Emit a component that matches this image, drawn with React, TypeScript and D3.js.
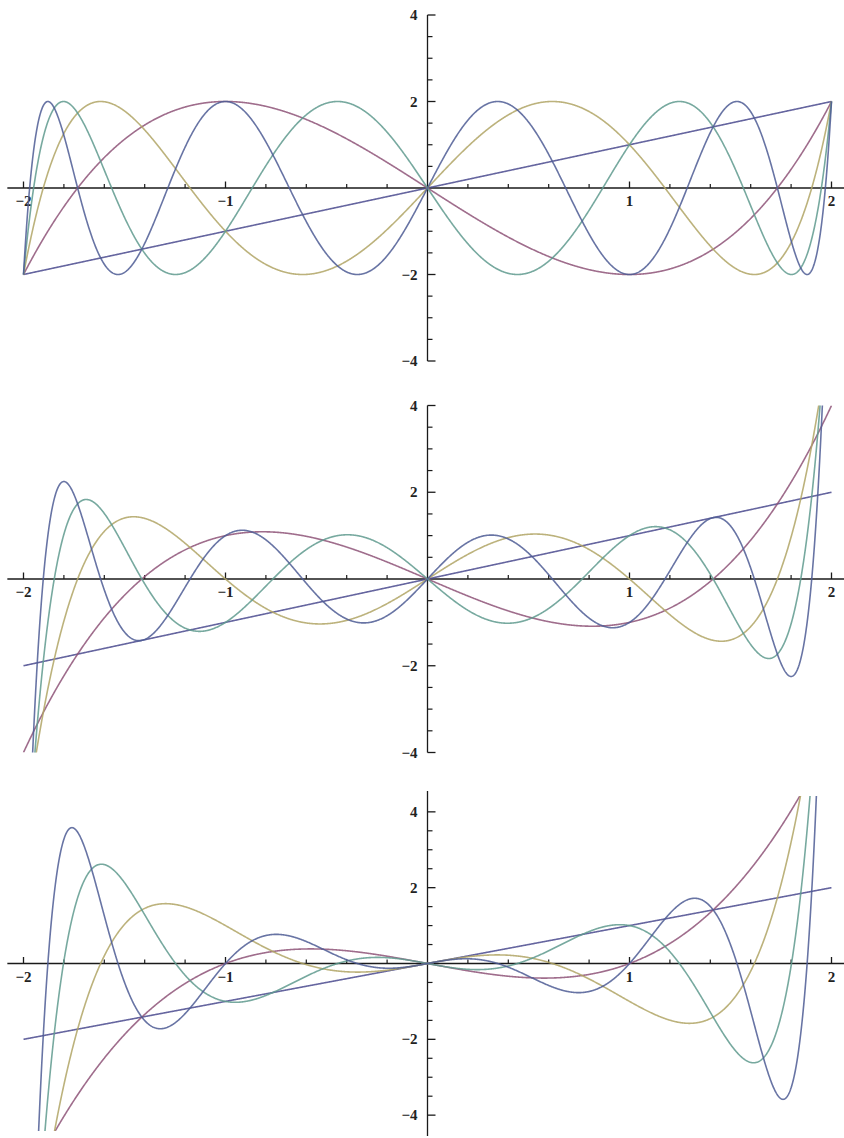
import React from "react";
import * as d3 from "d3";

// Polynomial coefficients, lowest power first, for the odd degrees 1, 3, 5, 7, 9.
const lucasCurves: number[][] = [
  [0, 1],
  [0, -3, 0, 1],
  [0, 5, 0, -5, 0, 1],
  [0, -7, 0, 14, 0, -7, 0, 1],
  [0, 9, 0, -30, 0, 27, 0, -9, 0, 1],
];

const fibonacciCurves: number[][] = [
  [0, 1],
  [0, -2, 0, 1],
  [0, 3, 0, -4, 0, 1],
  [0, -4, 0, 10, 0, -6, 0, 1],
  [0, 5, 0, -20, 0, 21, 0, -8, 0, 1],
];

const sumCurves: number[][] = [
  [0, 1],
  [0, -1, 0, 1],
  [0, 1, 0, -3, 0, 1],
  [0, -1, 0, 6, 0, -5, 0, 1],
  [0, 1, 0, -10, 0, 15, 0, -7, 0, 1],
];

const curveColors = ["#4a4a8e", "#8e5478", "#b0a565", "#5f9a8e", "#4d5c94"];

const xLabelTicks = [-2, -1, 1, 2];
const xMinorTicks = [
  -1.8, -1.6, -1.4, -1.2, -0.8, -0.6, -0.4, -0.2,
  0.2, 0.4, 0.6, 0.8, 1.2, 1.4, 1.6, 1.8,
];
const yLabelTicks = [-4, -2, 2, 4];
const yMinorTicks = [
  -3.5, -3, -2.5, -1.5, -1, -0.5, 0.5, 1, 1.5, 2.5, 3, 3.5,
];

const W = 844;
const H = 1138;

const xScale = d3.scaleLinear().domain([-2, 2]).range([23.5, 831.5]);
const xAxisExtent: [number, number] = [-2.08, 2.1];

type PanelSpec = {
  id: string;
  curves: number[][];
  yDomain: [number, number];
  yRange: [number, number];
  clip: [number, number];
};

const panels: PanelSpec[] = [
  { id: "p1", curves: lucasCurves, yDomain: [-4, 4], yRange: [361, 15], clip: [-4, 4] },
  { id: "p2", curves: fibonacciCurves, yDomain: [-4, 4], yRange: [752.5, 405.5], clip: [-4, 4] },
  { id: "p3", curves: sumCurves, yDomain: [-4.55, 4.55], yRange: [1136, 791], clip: [-4.42, 4.42] },
];

const evalPoly = (c: number[], x: number) => {
  let v = 0;
  for (let i = c.length - 1; i >= 0; i--) v = v * x + c[i];
  return v;
};

const samples = d3.range(0, 1601).map((i) => -2 + (4 * i) / 1600);

const fmt = (v: number) => (v < 0 ? "\u2212" + Math.abs(v) : String(v));

const FONT = "Liberation Serif, DejaVu Serif, serif";
const AXIS = "#1a1a1a";

function Panel({ spec }: { spec: PanelSpec }) {
  const y = d3.scaleLinear().domain(spec.yDomain).range(spec.yRange);
  const x0 = xScale(0);
  const y0 = y(0);
  const clipTop = y(spec.clip[1]);
  const clipBottom = y(spec.clip[0]);
  return (
    <g>
      <defs>
        <clipPath id={`clip-${spec.id}`}>
          <rect x={xScale(-2) - 2} y={clipTop} width={xScale(2) - xScale(-2) + 4} height={clipBottom - clipTop} />
        </clipPath>
      </defs>
      {/* x axis */}
      <line x1={xScale(xAxisExtent[0])} x2={xScale(xAxisExtent[1])} y1={y0} y2={y0} stroke={AXIS} strokeWidth={1.3} />
      {xMinorTicks.map((t) => (
        <line key={`xm${t}`} x1={xScale(t)} x2={xScale(t)} y1={y0} y2={y0 - 4} stroke={AXIS} strokeWidth={1.2} />
      ))}
      {xLabelTicks.map((t) => (
        <g key={`xl${t}`}>
          <line x1={xScale(t)} x2={xScale(t)} y1={y0} y2={y0 - 6.5} stroke={AXIS} strokeWidth={1.3} />
          <text x={xScale(t)} y={y0 + 18} textAnchor="middle" fontFamily={FONT} fontWeight="bold" fontSize={15} fill="#222">
            {fmt(t)}
          </text>
        </g>
      ))}
      {/* y axis */}
      <line x1={x0} x2={x0} y1={y(spec.yDomain[0])} y2={y(spec.yDomain[1])} stroke={AXIS} strokeWidth={1.3} />
      {yMinorTicks.map((t) => (
        <line key={`ym${t}`} x1={x0} x2={x0 + 5} y1={y(t)} y2={y(t)} stroke={AXIS} strokeWidth={1.2} />
      ))}
      {yLabelTicks.map((t) => (
        <g key={`yl${t}`}>
          <line x1={x0} x2={x0 + 8} y1={y(t)} y2={y(t)} stroke={AXIS} strokeWidth={1.3} />
          <text x={x0 - 10} y={y(t) + 5} textAnchor="end" fontFamily={FONT} fontWeight="bold" fontSize={15} fill="#222">
            {fmt(t)}
          </text>
        </g>
      ))}
      {/* curves */}
      <g clipPath={`url(#clip-${spec.id})`}>
        {spec.curves.map((c, i) => {
          const pts = samples.map((s) => evalPoly(c, s));
          const d = d3
            .line<number>()
            .x((_, k) => xScale(samples[k]))
            .y((v) => y(Math.max(-50, Math.min(50, v))))(pts);
          return (
            <path key={i} d={d ?? ""} fill="none" stroke={curveColors[i]} strokeWidth={1.6} strokeLinejoin="round" opacity={0.85} />
          );
        })}
      </g>
    </g>
  );
}

export default function App() {
  return (
    <svg
      width={W}
      height={H}
      viewBox={`0 0 ${W} ${H}`}
      style={{ position: "absolute", left: 0, top: 0, background: "#fff" }}
    >
      <rect width={W} height={H} fill="#fff" />
      {panels.map((p) => (
        <Panel key={p.id} spec={p} />
      ))}
    </svg>
  );
}
